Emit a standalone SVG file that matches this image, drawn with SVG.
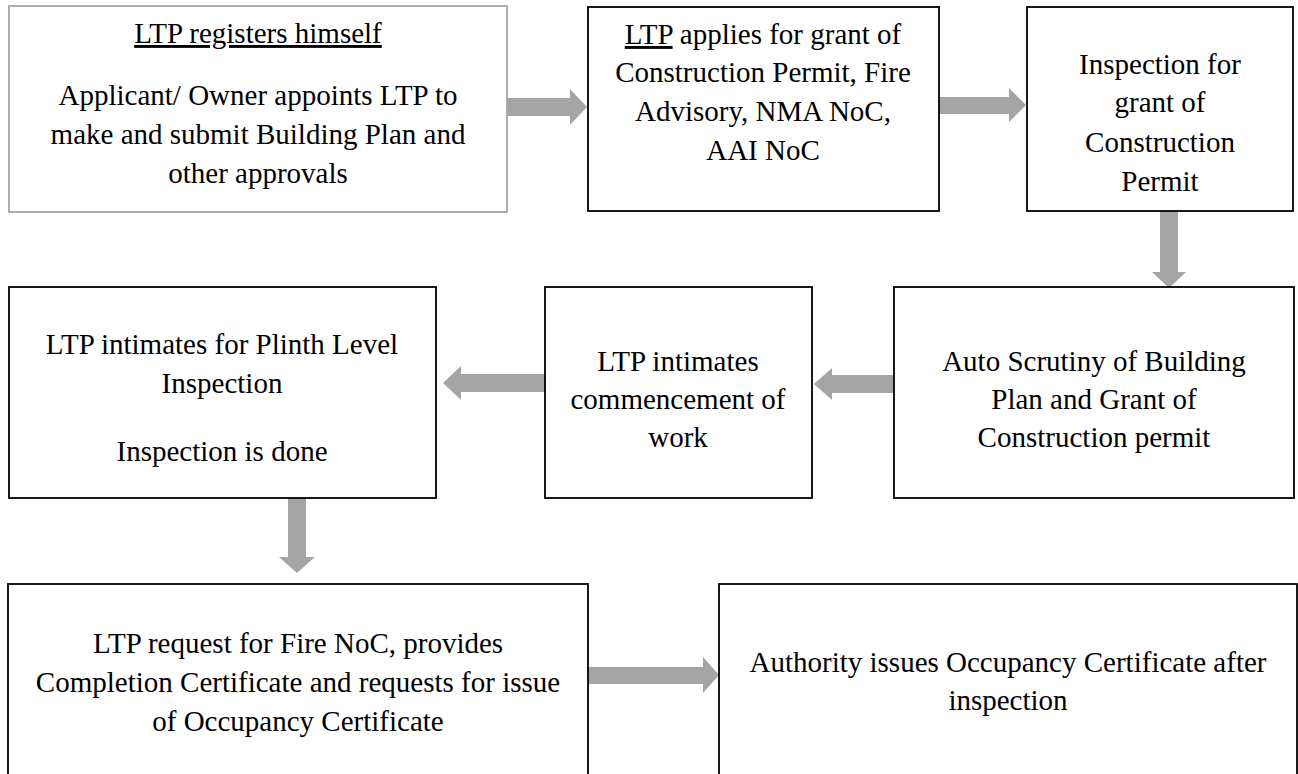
<svg xmlns="http://www.w3.org/2000/svg" width="1298" height="774" viewBox="0 0 1298 774">
<style>
.box{fill:#fff;stroke:#000;stroke-width:1.8}
.gbox{fill:#fff;stroke:#a6a6a6;stroke-width:1.8}
.t{font-family:'Liberation Serif','Times New Roman','DejaVu Serif',serif;font-size:29px;fill:#000;text-anchor:middle}
.u{text-decoration:underline}
.arr{fill:#a5a5a5}
</style>
<rect width="1298" height="774" fill="#fff"/>
<g id="connectors">
<polygon class="arr" points="507,98 570,98 570,89 587,107 570,125 570,116 507,116"/>
<polygon class="arr" points="939,97 1009,97 1009,88 1026,105 1009,122 1009,114 939,114"/>
<polygon class="arr" points="1160,211 1178,211 1178,272 1186,272 1169,288 1152,272 1160,272"/>
<polygon class="arr" points="894,375 832,375 832,368 814,384 832,400 832,393 894,393"/>
<polygon class="arr" points="545,374 461,374 461,366 443,383 461,400 461,392 545,392"/>
<polygon class="arr" points="288,498 306,498 306,557 315,557 297,573 279,557 288,557"/>
<polygon class="arr" points="588,667 703,667 703,657 719,675 703,693 703,684 588,684"/>
</g>
<g id="n1">
<rect class="gbox" x="9" y="6" width="498" height="206"/>
<text class="t u" x="258" y="43">LTP registers himself</text>
<text class="t" x="258" y="105">Applicant/ Owner appoints LTP to</text>
<text class="t" x="258" y="144">make and submit Building Plan and</text>
<text class="t" x="258" y="183">other approvals</text>
</g>
<g id="n2">
<rect class="box" x="588" y="7" width="351" height="204"/>
<text class="t" x="763" y="44"><tspan class="u">LTP</tspan> applies for grant of</text>
<text class="t" x="763" y="82">Construction Permit, Fire</text>
<text class="t" x="763" y="121">Advisory, NMA NoC,</text>
<text class="t" x="763" y="160">AAI NoC</text>
</g>
<g id="n3">
<rect class="box" x="1027" y="7" width="266" height="204"/>
<text class="t" x="1160" y="74">Inspection for</text>
<text class="t" x="1160" y="112">grant of</text>
<text class="t" x="1160" y="152">Construction</text>
<text class="t" x="1160" y="191">Permit</text>
</g>
<g id="n4">
<rect class="box" x="894" y="287" width="400" height="211"/>
<text class="t" x="1094" y="371">Auto Scrutiny of Building</text>
<text class="t" x="1094" y="409">Plan and Grant of</text>
<text class="t" x="1094" y="447">Construction permit</text>
</g>
<g id="n5">
<rect class="box" x="9" y="287" width="427" height="211"/>
<text class="t" x="222" y="354">LTP intimates for Plinth Level</text>
<text class="t" x="222" y="393">Inspection</text>
<text class="t" x="222" y="461">Inspection is done</text>
</g>
<g id="n6">
<rect class="box" x="545" y="287" width="267" height="211"/>
<text class="t" x="678" y="371">LTP intimates</text>
<text class="t" x="678" y="409">commencement of</text>
<text class="t" x="678" y="447">work</text>
</g>
<g id="n7">
<rect class="box" x="8" y="584" width="580" height="220"/>
<text class="t" x="298" y="653">LTP request for Fire NoC, provides</text>
<text class="t" x="298" y="692">Completion Certificate and requests for issue</text>
<text class="t" x="298" y="731">of Occupancy Certificate</text>
</g>
<g id="n8">
<rect class="box" x="719" y="584" width="578" height="220"/>
<text class="t" x="1008" y="672">Authority issues Occupancy Certificate after</text>
<text class="t" x="1008" y="710">inspection</text>
</g>
</svg>
